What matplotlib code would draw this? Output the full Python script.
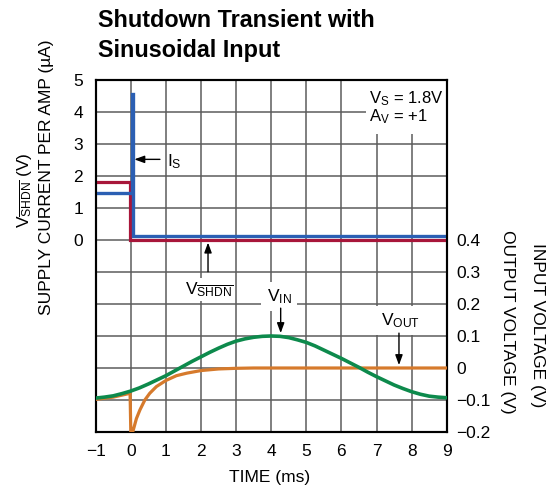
import matplotlib
matplotlib.use('Agg')
import matplotlib.pyplot as plt
import matplotlib.patches as pc

# data
t_is = [-1, 0.03, 0.03, 0.05, 0.05, 9]
i_s = [1.47, 1.47, 4.55, 4.55, 0.14, 0.14]          # uA

t_shdn = [-1, -0.02, -0.02, 9]
v_shdn = [1.8, 1.8, 0.0, 0.0]                        # V

t_in = [-1, -0.75, -0.5, -0.25, 0, 0.25, 0.5, 0.75, 1, 1.25, 1.5, 1.75, 2, 2.25,
        2.5, 2.75, 3, 3.25, 3.5, 3.75, 4, 4.25, 4.5, 4.75, 5, 5.25, 5.5, 5.75,
        6, 6.25, 6.5, 6.75, 7, 7.25, 7.5, 7.75, 8, 8.25, 8.5, 8.75, 9]
v_in = [-0.094, -0.091, -0.087, -0.080, -0.072, -0.062, -0.050, -0.037, -0.024,
        -0.009, 0.006, 0.021, 0.035, 0.049, 0.062, 0.074, 0.084, 0.091, 0.096,
        0.099, 0.100, 0.099, 0.095, 0.088, 0.080, 0.069, 0.056, 0.043, 0.030,
        0.016, 0.002, -0.013, -0.027, -0.040, -0.053, -0.064, -0.074, -0.082,
        -0.088, -0.091, -0.093]

t_out = [-1, -0.5, -0.02, 0.0, 0.06, 0.16, 0.26, 0.4, 0.54, 0.73, 1.0, 1.3, 1.6,
         2.0, 2.5, 3.0, 3.5, 9]
v_out = [-0.098, -0.091, -0.079, -0.200, -0.198, -0.158, -0.131, -0.100, -0.079,
         -0.058, -0.039, -0.024, -0.016, -0.008, -0.003, -0.001, 0.0, 0.0]

x_ticks = list(range(-1, 10))
left_ticks = [0, 1, 2, 3, 4, 5]
right_ticks = [-0.2, -0.1, 0, 0.1, 0.2, 0.3, 0.4]
right_labels = ['\u22120.2', '\u22120.1', '0', '0.1', '0.2', '0.3', '0.4']

fam = 'Liberation Sans'
plt.rcParams['font.family'] = [fam, 'DejaVu Sans']
plt.rcParams['mathtext.fontset'] = 'custom'
plt.rcParams['mathtext.rm'] = fam
plt.rcParams['mathtext.it'] = fam
plt.rcParams['mathtext.bf'] = fam + ':bold'
plt.rcParams['mathtext.default'] = 'regular'

FS = 12.5
W, H = 552.0, 492.0

fig = plt.figure(figsize=(5.52, 4.92), dpi=100)
ax = fig.add_axes([95.7 / W, 1 - 432 / H, 351 / W, 352 / H])
ax.set_xlim(-1, 9)
ax.set_ylim(-6, 5)
ax.set_axisbelow(True)
ax.set_xticks(x_ticks)
ax.set_xticklabels([str(v).replace('-', '\u2212') for v in x_ticks], fontsize=FS)
ax.set_yticks(range(-6, 6))
ax.set_yticklabels(['' if v not in left_ticks else str(v) for v in range(-6, 6)], fontsize=FS)
ax.tick_params(length=0, pad=9)
ax.tick_params(axis='y', pad=9)
ax.grid(True, color='#5c5c5c', lw=1.1)
for s in ax.spines.values():
    s.set_linewidth(1.5)
    s.set_color('black')

# white box behind the conditions text
ax.add_patch(pc.Rectangle((6.7, 3.3), 2.3, 1.7, facecolor='white', edgecolor='none', zorder=1))

ax.plot(t_shdn, v_shdn, color='#a8163a', lw=2.3, zorder=3, solid_joinstyle='miter')
ax.plot(t_is, i_s, color='#2b5fb3', lw=2.4, zorder=4, solid_joinstyle='miter')

ax2 = ax.twinx()
ax2.set_ylim(-0.2, 0.9)
ax2.set_yticks(right_ticks)
ax2.set_yticklabels(right_labels, fontsize=FS)
ax2.tick_params(length=0, pad=7)
for s in ax2.spines.values():
    s.set_linewidth(1.5)

ax2.plot(t_out, v_out, color='#d67a2c', lw=2.3, zorder=3)
ax2.plot(t_in, v_in, color='#0d8a4c', lw=2.6, zorder=4)

arr = dict(arrowstyle='-|>,head_length=0.6,head_width=0.22', color='black', lw=1.0,
           mutation_scale=10, shrinkA=0, shrinkB=0)

# conditions
ax.text(6.8, 4.27, 'V$_\\mathrm{S}$ = 1.8V', fontsize=12, va='baseline', zorder=5)
ax.text(6.8, 3.72, 'A$_\\mathrm{V}$ = +1', fontsize=12, va='baseline', zorder=5)

# I_S
ax.annotate('', xy=(0.1, 2.52), xytext=(0.83, 2.52), arrowprops=arr, zorder=6)
ax.text(1.03, 2.3, 'I$_\\mathrm{S}$', fontsize=FS, va='baseline', zorder=5)

bb = dict(facecolor='white', edgecolor='none', pad=4)
# V_SHDN
ax2.text(1.55, 0.231, 'V$_{\\overline{\\mathrm{SHDN}}}$', fontsize=FS, va='baseline',
         bbox=dict(facecolor='white', edgecolor='none', pad=1.5), zorder=5)
ax2.annotate('', xy=(2.2, 0.392), xytext=(2.2, 0.301), arrowprops=arr, zorder=6)
# V_IN
ax2.text(3.88, 0.209, 'V$_\\mathrm{IN}$', fontsize=FS, va='baseline', bbox=bb, zorder=5)
ax2.annotate('', xy=(4.27, 0.109), xytext=(4.27, 0.187), arrowprops=arr, zorder=6)
# V_OUT
ax2.text(7.12, 0.134, 'V$_\\mathrm{OUT}$', fontsize=FS, va='baseline', bbox=bb, zorder=5)
ax2.annotate('', xy=(7.64, 0.009), xytext=(7.64, 0.109), arrowprops=arr, zorder=6)

# axis labels
fig.text(270 / W, 1 - 482 / H, 'TIME (ms)', fontsize=FS, ha='center', va='baseline')
fig.text(24 / W, 1 - 190 / H, 'V$_{\\overline{\\mathrm{SHDN}}}$ (V)', fontsize=FS,
         rotation=90, ha='center', va='center')
fig.text(47 / W, 1 - 177 / H, 'SUPPLY CURRENT PER AMP (\u00b5A)', fontsize=FS,
         rotation=90, ha='center', va='center')
fig.text(508 / W, 1 - 322 / H, 'OUTPUT VOLTAGE (V)', fontsize=FS,
         rotation=-90, ha='center', va='center')
fig.text(538 / W, 1 - 325 / H, 'INPUT VOLTAGE (V)', fontsize=FS,
         rotation=-90, ha='center', va='center')

# title
fig.text(98 / W, 1 - 27 / H, 'Shutdown Transient with', fontsize=16.8,
         fontweight='bold', va='baseline')
fig.text(98 / W, 1 - 57 / H, 'Sinusoidal Input', fontsize=16.8,
         fontweight='bold', va='baseline')

fig.savefig('out.png', dpi=100)
